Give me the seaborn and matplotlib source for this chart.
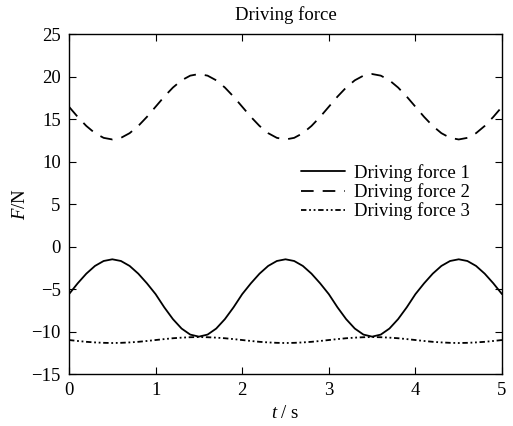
import numpy as np
import pandas as pd
import matplotlib
matplotlib.use("Agg")
import matplotlib.pyplot as plt
import seaborn as sns

# time axis, s
t = [round(0.1 * i, 1) for i in range(51)]

# driving force 1 (solid), N
force_1 = [-5.60, -4.33, -3.19, -2.28, -1.70, -1.50, -1.70, -2.28, -3.19, -4.33,
           -5.60, -7.15, -8.54, -9.65, -10.36, -10.60, -10.36, -9.65, -8.54, -7.15,
           -5.60, -4.33, -3.19, -2.28, -1.70, -1.50, -1.70, -2.28, -3.19, -4.33,
           -5.60, -7.15, -8.54, -9.65, -10.36, -10.60, -10.36, -9.65, -8.54, -7.15,
           -5.60, -4.33, -3.19, -2.28, -1.70, -1.50, -1.70, -2.28, -3.19, -4.33,
           -5.60]

# driving force 2 (dashed), N
force_2 = [16.45, 15.26, 14.19, 13.34, 12.79, 12.60, 12.79, 13.34, 14.19, 15.26,
           16.45, 17.64, 18.71, 19.56, 20.11, 20.30, 20.11, 19.56, 18.71, 17.64,
           16.45, 15.26, 14.19, 13.34, 12.79, 12.60, 12.79, 13.34, 14.19, 15.26,
           16.45, 17.64, 18.71, 19.56, 20.11, 20.30, 20.11, 19.56, 18.71, 17.64,
           16.45, 15.26, 14.19, 13.34, 12.79, 12.60, 12.79, 13.34, 14.19, 15.26,
           16.45]

# driving force 3 (dash-dot), N
force_3 = [-11.00, -11.11, -11.21, -11.28, -11.33, -11.35, -11.33, -11.28, -11.21, -11.11,
           -11.00, -10.89, -10.79, -10.72, -10.67, -10.65, -10.67, -10.72, -10.79, -10.89,
           -11.00, -11.11, -11.21, -11.28, -11.33, -11.35, -11.33, -11.28, -11.21, -11.11,
           -11.00, -10.89, -10.79, -10.72, -10.67, -10.65, -10.67, -10.72, -10.79, -10.89,
           -11.00, -11.11, -11.21, -11.28, -11.33, -11.35, -11.33, -11.28, -11.21, -11.11,
           -11.00]

labels = ["Driving force 1", "Driving force 2", "Driving force 3"]
x_ticks = [0, 1, 2, 3, 4, 5]
y_ticks = [-15, -10, -5, 0, 5, 10, 15, 20, 25]

df = pd.DataFrame({
    "t": t * 3,
    "F": force_1 + force_2 + force_3,
    "series": [labels[0]] * len(t) + [labels[1]] * len(t) + [labels[2]] * len(t),
})

sns.set_style("ticks")
plt.rcParams["font.family"] = ["Liberation Serif", "DejaVu Serif"]
plt.rcParams["mathtext.fontset"] = "custom"
plt.rcParams["mathtext.rm"] = "Liberation Serif"
plt.rcParams["mathtext.it"] = "Liberation Serif:italic"
plt.rcParams["text.color"] = "black"
plt.rcParams["axes.labelcolor"] = "black"
fs = 13.5

fig, ax = plt.subplots(figsize=(5.13, 4.26), dpi=100)
fig.subplots_adjust(left=0.1345, right=0.9786, top=0.920, bottom=0.122)

sns.lineplot(data=df, x="t", y="F", hue="series", style="series",
             palette=["black"] * 3,
             dashes={labels[0]: "", labels[1]: (7, 5), labels[2]: (3, 1.5, 1, 1.5, 1, 1.5)},
             linewidth=1.3, ax=ax)

ax.set_xlim(0, 5)
ax.set_ylim(-15, 25)
ax.set_xticks(x_ticks)
ax.set_yticks(y_ticks)
ax.tick_params(direction="in", length=5, top=True, right=True, labelsize=fs,
               colors="black", pad=6)
for s in ax.spines.values():
    s.set_color("black")
    s.set_linewidth(1.0)

ax.set_title("Driving force", fontsize=fs, pad=10, color="black")
ax.set_xlabel("$t$ / s", fontsize=fs, labelpad=4, color="black")
ax.set_ylabel("$F$/N", fontsize=fs, labelpad=2, color="black")

leg = ax.legend(loc="upper left", bbox_to_anchor=(0.515, 0.645), frameon=False, fontsize=fs,
                handlelength=2.3, handletextpad=0.53, labelspacing=0.07, borderpad=0)
for txt in leg.get_texts():
    txt.set_color("black")

fig.savefig("out.png", dpi=100)
